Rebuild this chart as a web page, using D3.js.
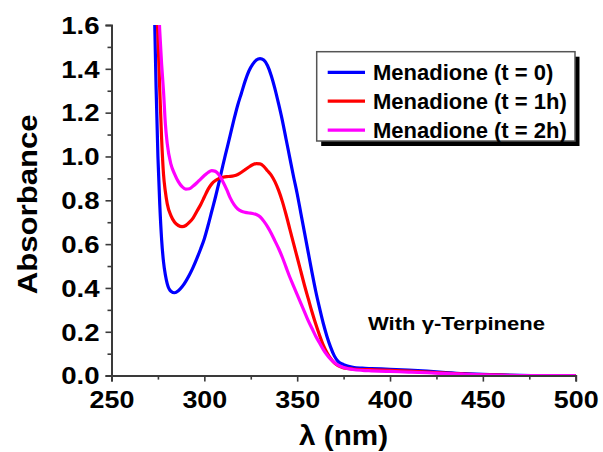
<!DOCTYPE html>
<html><head><meta charset="utf-8">
<script src="https://cdn.jsdelivr.net/npm/d3@7"></script>
<style>
html,body{margin:0;padding:0;background:#fff;}
svg{display:block;font-family:Arial,"Liberation Sans",sans-serif;font-weight:bold;}
</style></head>
<body>
<svg id="chart" width="603" height="452"></svg>
<script>
// ---- Data ----
const seriesNames = ["Menadione (t = 0)", "Menadione (t = 1h)", "Menadione (t = 2h)"];
const seriesColors = ["#0000ff", "#ff0000", "#ff00ff"];

const wlBlue = [273,274,275,276,277,278,279,280,282,284,286,288,290,292,294,296,298,300,302,304,306,308,310,312,314,316,318,320,322,324,326,328,330,332,334,336,338,340,342,344,346,348,350,352,354,356,358,360,362,364,366,368,370,372,375,380,385,390,400,410,420,430,440,450,460,470,480,500];
const absBlue = [1.72,1.32,1.00,0.78,0.62,0.52,0.46,0.42,0.385,0.378,0.387,0.405,0.43,0.46,0.495,0.535,0.578,0.625,0.685,0.75,0.815,0.885,0.96,1.03,1.10,1.17,1.235,1.29,1.345,1.39,1.42,1.44,1.447,1.44,1.415,1.37,1.31,1.24,1.165,1.08,0.995,0.91,0.83,0.74,0.65,0.56,0.47,0.385,0.31,0.24,0.18,0.13,0.09,0.065,0.05,0.038,0.034,0.032,0.029,0.025,0.02,0.014,0.009,0.006,0.003,0.001,0,0];

const wlRed = [274,275,276,277,278,279,280,282,284,286,288,290,292,294,296,298,300,302,304,306,308,310,312,314,316,318,320,322,324,326,328,330,332,334,336,338,340,342,344,346,348,350,352,354,356,358,360,362,364,366,368,370,372,375,380,390,400,410,420,430,440,450,460,470,480,500];
const absRed = [1.75,1.55,1.30,1.08,0.92,0.84,0.785,0.73,0.70,0.685,0.68,0.685,0.70,0.72,0.75,0.78,0.815,0.85,0.875,0.89,0.90,0.905,0.908,0.909,0.912,0.918,0.928,0.94,0.952,0.962,0.967,0.966,0.955,0.935,0.915,0.885,0.845,0.795,0.735,0.67,0.605,0.54,0.475,0.41,0.35,0.29,0.235,0.185,0.14,0.105,0.078,0.058,0.045,0.035,0.03,0.027,0.024,0.02,0.016,0.011,0.007,0.004,0.002,0.0005,0,0];

const wlMag = [275,276,277,278,279,280,282,284,286,288,290,292,294,296,298,300,302,304,306,308,310,312,314,316,318,320,322,324,326,328,330,332,334,336,338,340,342,344,346,348,350,352,354,356,358,360,362,364,366,368,370,372,375,380,385,390,400,410,420,430,440,450,460,470,500];
const absMag = [1.75,1.57,1.42,1.30,1.15,1.06,0.965,0.92,0.885,0.862,0.851,0.853,0.865,0.88,0.897,0.913,0.927,0.935,0.932,0.915,0.885,0.85,0.81,0.78,0.76,0.75,0.745,0.742,0.74,0.735,0.725,0.705,0.68,0.65,0.615,0.58,0.54,0.495,0.45,0.41,0.37,0.33,0.29,0.25,0.215,0.18,0.15,0.12,0.095,0.075,0.06,0.048,0.037,0.028,0.024,0.022,0.019,0.016,0.013,0.009,0.006,0.003,0.001,0,0];

const xTicks = [250,300,350,400,450,500];
const yTicks = [0.0,0.2,0.4,0.6,0.8,1.0,1.2,1.4,1.6];
const xLabel = "λ (nm)";
const yLabel = "Absorbance";
const annotation = "With γ-Terpinene";

// ---- Layout ----
const svg = d3.select("#chart");
const L = 111.5, R = 575.7, T = 25, B = 375.6;
const x = d3.scaleLinear().domain([250,500]).range([L,R]);
const y = d3.scaleLinear().domain([0,1.6]).range([B,T]);
const axisColor = "#3a3a3a";

function fitWidth(sel, width){
  sel.attr("textLength", width).attr("lengthAdjust","spacingAndGlyphs");
}

svg.append("defs").append("clipPath").attr("id","clip")
  .append("rect").attr("x",L).attr("y",T).attr("width",R-L).attr("height",B-T);

// curves
const series = [
  {name: seriesNames[0], color: seriesColors[0], xs: wlBlue, ys: absBlue},
  {name: seriesNames[1], color: seriesColors[1], xs: wlRed, ys: absRed},
  {name: seriesNames[2], color: seriesColors[2], xs: wlMag, ys: absMag}
];
const line = d3.line().x(d=>x(d[0])).y(d=>y(d[1])).curve(d3.curveMonotoneX);
const gLines = svg.append("g").attr("clip-path","url(#clip)");
series.forEach(s=>{
  gLines.append("path").datum(d3.zip(s.xs, s.ys))
    .attr("d", line).attr("fill","none")
    .attr("stroke", s.color).attr("stroke-width", 3.2)
    .attr("stroke-linejoin","round");
});

// axes
const xAxis = svg.append("g").attr("transform",`translate(0,${B})`)
  .call(d3.axisBottom(x).tickValues(xTicks).tickFormat(d3.format("d")).tickSize(6).tickPadding(9));
const xMinor = svg.append("g").attr("transform",`translate(0,${B})`)
  .call(d3.axisBottom(x).tickValues(d3.range(275,500,50)).tickFormat("").tickSize(4));
const yAxis = svg.append("g").attr("transform",`translate(${L},0)`)
  .call(d3.axisLeft(y).tickValues(yTicks).tickFormat(d3.format(".1f")).tickSize(6).tickPadding(6));
const yMinor = svg.append("g").attr("transform",`translate(${L},0)`)
  .call(d3.axisLeft(y).tickValues(d3.range(0.1,1.6,0.2)).tickFormat("").tickSize(4));

[xAxis,xMinor,yAxis,yMinor].forEach(g=>{
  g.attr("font-family", null).attr("font-size", null);
  g.select(".domain").attr("stroke",axisColor).attr("stroke-width",2);
  g.selectAll(".tick line").attr("stroke",axisColor).attr("stroke-width",1.6);
  g.selectAll("text").attr("fill","#000");
});
xMinor.select(".domain").remove();
yMinor.select(".domain").remove();
const sx = 1.12, sy = 1.2;
xAxis.selectAll(".tick text").attr("font-size", 24).attr("transform", `scale(${sx},1)`);
yAxis.selectAll(".tick text").attr("font-size", 23).attr("dy","0.36em")
  .attr("x", -12/sy).attr("transform", `scale(${sy},1)`);

// axis titles
const xt = svg.append("text").attr("x",(L+R)/2).attr("y",445).attr("text-anchor","middle")
  .attr("font-size",27).text(xLabel);
fitWidth(xt, 89);
const yt = svg.append("text").attr("transform",`translate(37,${(T+B)/2+4}) rotate(-90)`)
  .attr("text-anchor","middle").attr("font-size",27).text(yLabel);
fitWidth(yt, 180);

// annotation
const an = svg.append("text").attr("x",368).attr("y",330).attr("font-size",19).text(annotation);
fitWidth(an, 177);

// legend
const lg = svg.append("g");
const lx = 316.7, ly = 51.7, lw = 258.3, lh = 89.3;
lg.append("rect").attr("x",lx+4.5).attr("y",ly+5).attr("width",lw).attr("height",lh).attr("fill","#000");
lg.append("rect").attr("x",lx).attr("y",ly).attr("width",lw).attr("height",lh)
  .attr("fill","#fff").attr("stroke","#555").attr("stroke-width",1.5);
series.forEach((s,i)=>{
  const yy = 72.3 + i*28.9;
  lg.append("line").attr("x1",327.7).attr("x2",365).attr("y1",yy).attr("y2",yy)
    .attr("stroke",s.color).attr("stroke-width",3.2);
  lg.append("text").attr("x",373).attr("y",yy+7.5).attr("font-size",22).text(s.name);
});
</script>
</body></html>
